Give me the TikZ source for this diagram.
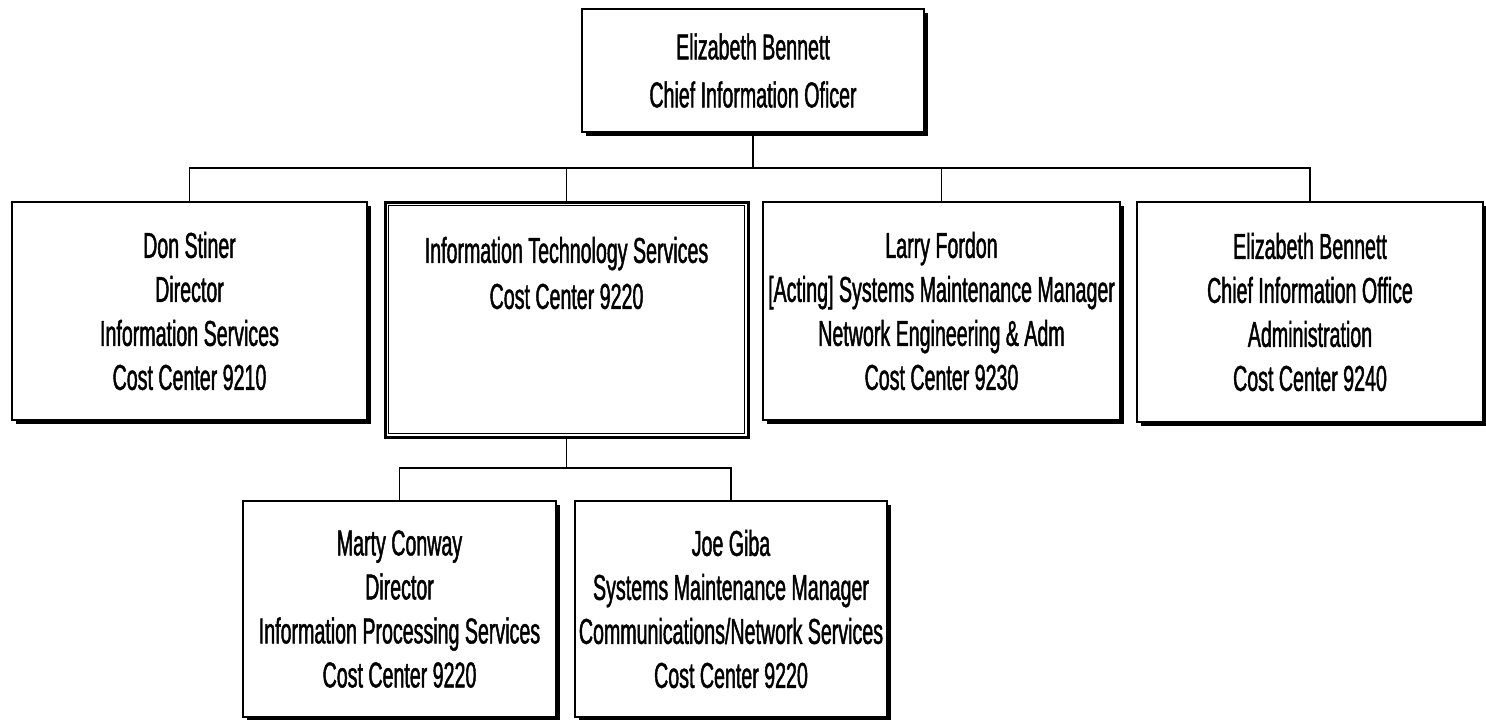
\documentclass[tikz,border=0pt]{standalone}
\usepackage{fontspec}
\setmainfont{Liberation Sans}[FakeStretch=0.545, FakeBold=1.2]
\usetikzlibrary{shadows}
\begin{document}
\begin{tikzpicture}[x=1pt,y=-1pt]
\tikzset{
  box/.style={draw=black, line width=1.3pt, fill=white, align=center, inner sep=0pt,
    font=\fontsize{36}{44}\selectfont,
    drop shadow={shadow xshift=4pt, shadow yshift=-4pt, fill=black, opacity=1}},
  itsbox/.style={draw=black, line width=3pt, fill=white, inner sep=0pt},
  lbl/.style={align=center, inner sep=0pt, font=\fontsize{36}{46}\selectfont},
  conn/.style={draw=black, line width=1.6pt}
}
\useasboundingbox (0,0) rectangle (1486,720);
\fill[white] (0,0) rectangle (1486,720);

% top
\node[box, minimum width=342pt, minimum height=123pt, font=\fontsize{36}{48}\selectfont] (ceo) at (753,70.5)
  {Elizabeth Bennett\\Chief Information Oficer};

% level 2
\node[box, minimum width=355pt, minimum height=218pt] (don) at (189.5,311)
  {Don Stiner\\Director\\Information Services\\Cost Center 9210};
\node[itsbox, minimum width=363pt, minimum height=235pt] (its) at (566.5,319.5) {};
\draw[line width=1pt] ([shift={(5pt,-5pt)}]its.north west) rectangle ([shift={(-5pt,5pt)}]its.south east);
\node[lbl] (itslabel) at ([yshift=-72.5pt]its.north)
  {Information Technology Services\\Cost Center 9220};
\node[box, minimum width=357pt, minimum height=218pt] (larry) at (941.5,311)
  {Larry Fordon\\{[Acting]} Systems Maintenance Manager\\Network Engineering \& Adm\\Cost Center 9230};
\node[box, minimum width=346pt, minimum height=220pt] (eb) at (1310,312)
  {Elizabeth Bennett\\Chief Information Office\\Administration\\Cost Center 9240};

% level 3
\node[box, minimum width=313pt, minimum height=216pt] (marty) at (399.5,609)
  {Marty Conway\\Director\\Information Processing Services\\Cost Center 9220};
\node[box, minimum width=312pt, minimum height=216pt] (joe) at (731,609)
  {Joe Giba\\Systems Maintenance Manager\\Communications/Network Services\\Cost Center 9220};

% connectors
\coordinate (bus) at (753,168);
\draw[conn] (ceo.south) -- (bus);
\draw[conn] (don.north) |- (bus);
\draw[conn] (its.north) |- (bus);
\draw[conn] (larry.north) |- (bus);
\draw[conn] (eb.north) |- (bus);

\coordinate (bus2) at (566.5,468);
\draw[conn] (its.south) -- (bus2);
\draw[conn] (marty.north) |- (bus2);
\draw[conn] (joe.north) |- (bus2);
\end{tikzpicture}
\end{document}
